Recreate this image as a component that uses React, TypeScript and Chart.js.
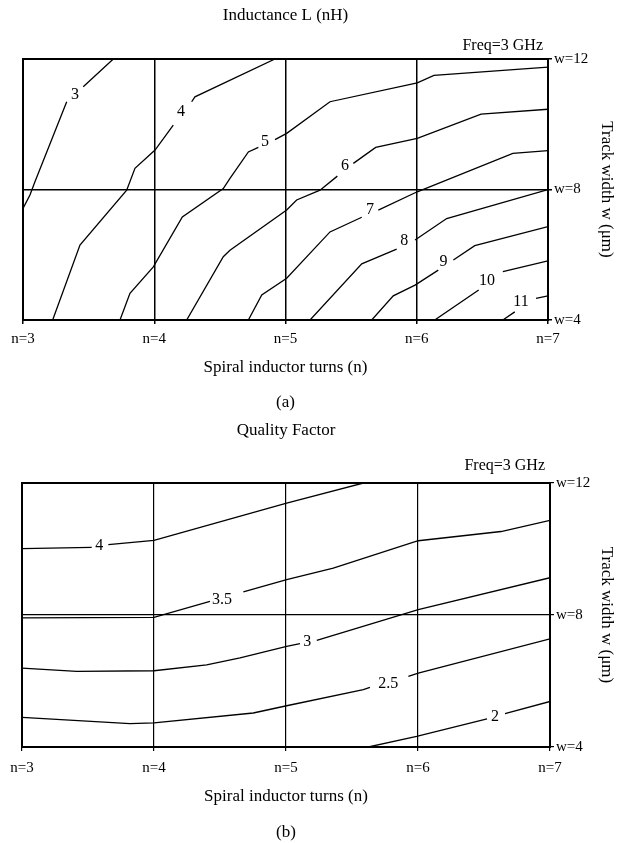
import React, { useEffect, useRef } from 'react';
import { Chart, registerables } from 'chart.js';
Chart.register(...registerables);

type Pt = [number, number] | null;

const FONT = "'Liberation Serif', 'Times New Roman', serif";

// Axis ticks
const nTicks = [3, 4, 5, 6, 7];
const wTicks = [4, 8, 12];

// ---- Inductance L (nH) contours: [turns n, width w]; null = label gap ----
const L3: Pt[] = [[3.688, 12.0], [3.459, 11.15], null, [3.333, 10.69], [3.091, 8.24], [3.053, 7.83], [3.0, 7.42]];
const L4: Pt[] = [[4.92, 12.0], [4.31, 10.84], [4.285, 10.69], null, [4.145, 9.97], [4.006, 9.21], [3.853, 8.65], [3.79, 7.98], [3.434, 6.3], [3.226, 4.0]];
const L5: Pt[] = [[7.0, 11.75], [6.131, 11.5], [6.004, 11.27], [5.339, 10.69], [5.009, 9.72], [4.92, 9.53], null, [4.793, 9.29], [4.717, 9.15], [4.577, 8.34], [4.526, 8.03], [4.214, 7.16], [3.993, 5.63], [3.815, 4.82], [3.739, 4.0]];
const L6: Pt[] = [[7.0, 10.46], [6.49, 10.31], [6.004, 9.57], [5.687, 9.29], [5.517, 8.8], null, [5.395, 8.41], [5.263, 7.98], [5.085, 7.68], [5.009, 7.37], [4.577, 6.14], [4.526, 5.94], [4.247, 4.0]];
const L7: Pt[] = [[7.0, 9.19], [6.732, 9.11], [6.004, 7.93], [5.707, 7.37], null, [5.581, 7.15], [5.339, 6.7], [5.009, 5.28], [4.819, 4.77], [4.717, 4.0]];
const L8: Pt[] = [[7.0, 8.0], [6.228, 7.11], [5.987, 6.45], null, [5.847, 6.17], [5.581, 5.72], [5.187, 4.0]];
const L9: Pt[] = [[7.0, 6.86], [6.442, 6.28], [6.279, 5.84], null, [6.164, 5.53], [5.987, 5.07], [5.821, 4.74], [5.657, 4.0]];
const L10: Pt[] = [[7.0, 5.81], [6.656, 5.48], null, [6.472, 4.92], [6.137, 4.0]];
const L11: Pt[] = [[7.0, 4.74], [6.909, 4.66], null, [6.747, 4.25], [6.656, 4.0]];
const lContours = [L3, L4, L5, L6, L7, L8, L9, L10, L11];
const lLevels = ['3', '4', '5', '6', '7', '8', '9', '10', '11'];
const lLabelN = [3.396, 4.204, 4.844, 5.453, 5.644, 5.905, 6.203, 6.535, 6.794];
const lLabelW = [10.89, 10.38, 9.46, 8.72, 7.37, 6.43, 5.79, 5.19, 4.55];

// ---- Quality factor contours ----
const Q4: Pt[] = [[3.0, 10.01], [3.528, 10.05], null, [3.654, 10.13], [4.0, 10.26], [5.005, 11.39], [5.586, 12.0]];
const Q35: Pt[] = [[3.0, 7.91], [4.0, 7.93], [4.424, 8.41], null, [4.677, 8.7], [5.005, 9.07], [5.358, 9.42], [6.002, 10.25], [6.629, 10.53], [7.0, 10.87]];
const Q3: Pt[] = [[3.0, 6.39], [3.414, 6.29], [4.0, 6.31], [4.399, 6.49], [4.652, 6.7], [5.005, 7.05], [5.106, 7.13], null, [5.233, 7.23], [6.002, 8.16], [7.0, 9.13]];
const Q25: Pt[] = [[3.0, 4.9], [3.818, 4.71], [4.0, 4.73], [4.752, 5.03], [5.005, 5.25], [5.586, 5.74], [5.636, 5.81], null, [5.927, 6.14], [6.002, 6.24], [7.0, 7.28]];
const Q2: Pt[] = [[5.624, 4.0], [5.99, 4.32], [6.523, 4.85], null, [6.659, 5.01], [7.0, 5.38]];
const qContours = [Q4, Q35, Q3, Q25, Q2];
const qLevels = ['4', '3.5', '3', '2.5', '2'];
const qLabelN = [3.586, 4.515, 5.161, 5.775, 6.583];
const qLabelW = [10.1, 8.46, 7.18, 5.92, 4.93];

interface PanelSpec {
  title: string;
  caption: string;
  contours: Pt[][];
  levels: string[];
  labelN: number[];
  labelW: number[];
  height: number;
  pad: { left: number; top: number; bottom: number };
  rightWidth: number;
  xLabelPad: number;
  xTitlePad: number;
  freqDy: number;
  captionDy: number;
  gridWidth: number;
}

const panels: PanelSpec[] = [
  {
    title: 'Inductance L (nH)', caption: '(a)', contours: lContours, levels: lLevels,
    labelN: lLabelN, labelW: lLabelW, height: 415,
    pad: { left: 23, top: 59, bottom: 35 }, rightWidth: 79, xLabelPad: 6, xTitlePad: 2,
    freqDy: 13, captionDy: 83, gridWidth: 1.5,
  },
  {
    title: 'Quality Factor', caption: '(b)', contours: qContours, levels: qLevels,
    labelN: qLabelN, labelW: qLabelW, height: 428,
    pad: { left: 22, top: 68, bottom: 36 }, rightWidth: 77, xLabelPad: 8, xTitlePad: 0,
    freqDy: 17, captionDy: 86, gridWidth: 1.2,
  },
];

function makeChart(canvas: HTMLCanvasElement, p: PanelSpec) {
  const decor = {
    id: 'decor',
    afterDatasetsDraw(chart: any) {
      const { ctx, chartArea: a, scales } = chart;
      ctx.save();
      // contour labels
      ctx.fillStyle = '#000';
      ctx.font = `16px ${FONT}`;
      ctx.textAlign = 'center';
      ctx.textBaseline = 'middle';
      p.levels.forEach((t, i) => {
        const x = scales.x.getPixelForValue(p.labelN[i]);
        const y = scales.y.getPixelForValue(p.labelW[i]);
        ctx.fillText(t, x, y);
      });
      // frame
      ctx.strokeStyle = '#000';
      ctx.lineWidth = 2;
      ctx.strokeRect(a.left, a.top, a.right - a.left, a.bottom - a.top);
      // titles
      const cx = (a.left + a.right) / 2;
      ctx.font = `17px ${FONT}`;
      ctx.fillText(p.title, cx, 16);
      ctx.fillText(p.caption, cx, a.bottom + p.captionDy);
      ctx.font = `16px ${FONT}`;
      ctx.textAlign = 'right';
      ctx.fillText('Freq=3 GHz', a.right - 5, a.top - p.freqDy);
      ctx.restore();
    },
  };

  return new Chart(canvas, {
    type: 'scatter',
    data: {
      datasets: p.contours.map((c) => ({
        data: c.map((pt) => (pt ? { x: pt[0], y: pt[1] } : { x: null as any, y: null as any })),
        showLine: true,
        borderColor: '#000',
        borderWidth: 1.3,
        pointRadius: 0,
        spanGaps: false,
        fill: false,
        tension: 0,
      })),
    },
    options: {
      animation: false,
      responsive: false,
      events: [],
      layout: { padding: { left: p.pad.left, top: p.pad.top, right: 0, bottom: p.pad.bottom } },
      plugins: { legend: { display: false }, tooltip: { enabled: false }, title: { display: false } },
      scales: {
        x: {
          type: 'linear',
          position: 'bottom',
          min: nTicks[0],
          max: nTicks[nTicks.length - 1],
          afterBuildTicks: (s: any) => { s.ticks = nTicks.map((v) => ({ value: v })); },
          afterFit: (s: any) => { s.height = 60; },
          ticks: {
            callback: (v: any) => 'n=' + v,
            color: '#000',
            font: { family: FONT, size: 15 },
            padding: p.xLabelPad,
            maxRotation: 0,
            autoSkip: false,
          },
          grid: { color: '#000', lineWidth: p.gridWidth, drawTicks: true, tickLength: 4 },
          border: { display: false },
          title: {
            display: true,
            text: 'Spiral inductor turns (n)',
            color: '#000',
            font: { family: FONT, size: 17 },
            padding: { top: 0, bottom: p.xTitlePad },
          },
        },
        y: {
          type: 'linear',
          position: 'right',
          min: wTicks[0],
          max: wTicks[wTicks.length - 1],
          afterBuildTicks: (s: any) => { s.ticks = wTicks.map((v) => ({ value: v })); },
          afterFit: (s: any) => { s.width = p.rightWidth; },
          ticks: {
            callback: (v: any) => 'w=' + v,
            color: '#000',
            font: { family: FONT, size: 15 },
            padding: 2,
            autoSkip: false,
          },
          grid: { color: '#000', lineWidth: p.gridWidth, drawTicks: true, tickLength: 4 },
          border: { display: false },
          title: {
            display: true,
            text: 'Track width w (μm)',
            color: '#000',
            font: { family: FONT, size: 17 },
            padding: { top: 10, bottom: 0 },
          },
        },
      },
    } as any,
    plugins: [decor],
  });
}

function Panel({ spec, top }: { spec: PanelSpec; top: number }) {
  const ref = useRef<HTMLCanvasElement>(null);
  useEffect(() => {
    if (!ref.current) return;
    const chart = makeChart(ref.current, spec);
    return () => chart.destroy();
  }, [spec]);
  return (
    <canvas
      ref={ref}
      width={627}
      height={spec.height}
      style={{ position: 'absolute', left: 0, top, width: 627, height: spec.height, display: 'block' }}
    />
  );
}

export default function App() {
  return (
    <div style={{ position: 'absolute', left: 0, top: 0, width: 627, height: 843, background: '#fff' }}>
      <Panel spec={panels[0]} top={0} />
      <Panel spec={panels[1]} top={415} />
    </div>
  );
}
